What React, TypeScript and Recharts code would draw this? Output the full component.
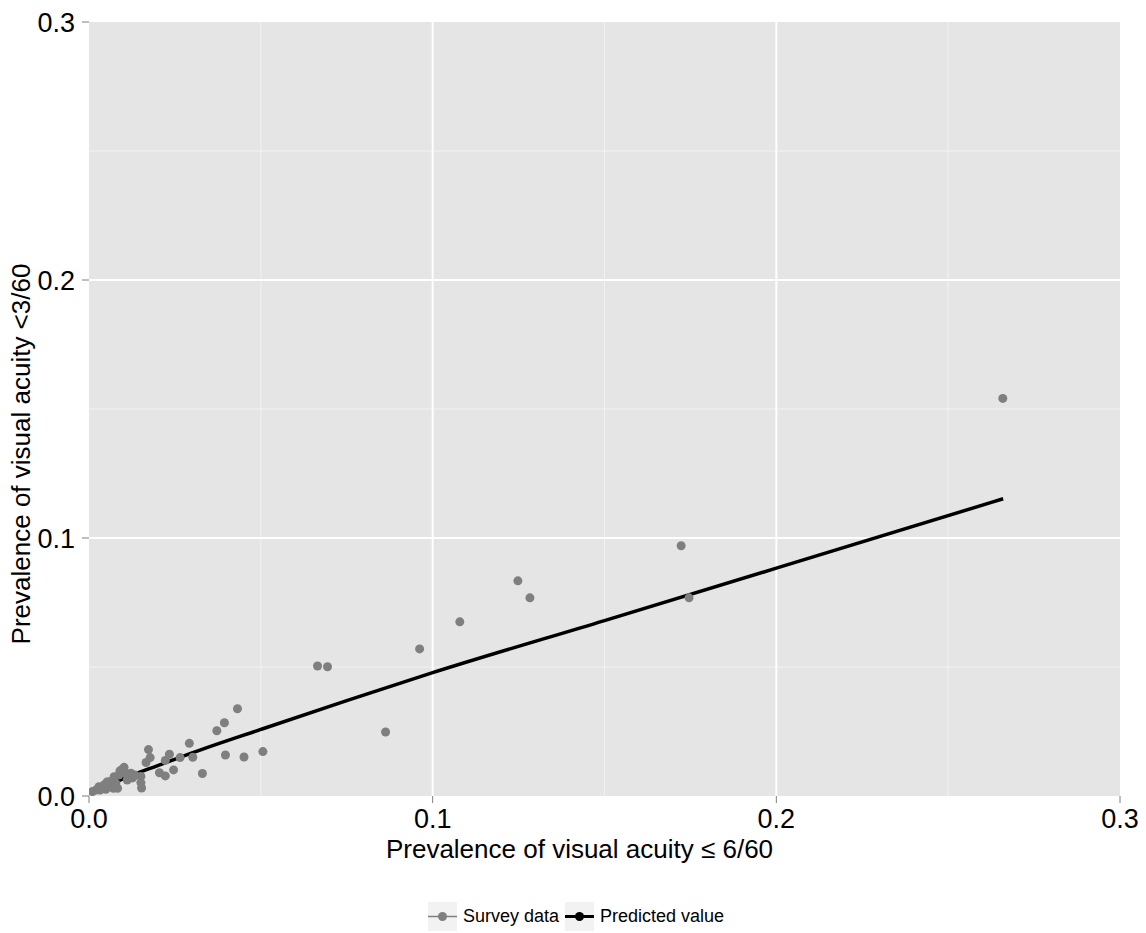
import React from "react";
import { ComposedChart, Scatter, Line, XAxis, YAxis, CartesianGrid, ReferenceLine, Legend, Label } from "recharts";

// survey points (x = prevalence <= 6/60, y = prevalence < 3/60)
const surveyX = [
  0.2659, 0.1723, 0.1746, 0.1248, 0.1283, 0.1079, 0.0962, 0.0863, 0.0665, 0.0694,
  0.0506, 0.0432, 0.0451, 0.0394, 0.0397, 0.0372, 0.0330, 0.0302, 0.0292, 0.0265,
  0.0246, 0.0234, 0.0222, 0.0222, 0.0205, 0.0173, 0.0178, 0.0166, 0.0151, 0.0151,
  0.0153, 0.0127, 0.0122, 0.0107, 0.0102, 0.0096, 0.0087, 0.0073, 0.0078, 0.0083,
  0.0058, 0.0063, 0.0044, 0.0049, 0.0029, 0.0020, 0.0010, 0.0120, 0.0071, 0.0090,
  0.0111, 0.0032, 0.0052, 0.0134,
];
const surveyY = [
  0.1541, 0.0970, 0.0768, 0.0834, 0.0768, 0.0675, 0.0570, 0.0248, 0.0504, 0.0501,
  0.0172, 0.0338, 0.0151, 0.0284, 0.0159, 0.0253, 0.0087, 0.0150, 0.0204, 0.0149,
  0.0101, 0.0162, 0.0078, 0.0138, 0.0090, 0.0180, 0.0149, 0.0130, 0.0076, 0.0052,
  0.0031, 0.0070, 0.0088, 0.0088, 0.0111, 0.0103, 0.0081, 0.0075, 0.0049, 0.0030,
  0.0055, 0.0036, 0.0043, 0.0026, 0.0036, 0.0023, 0.0017, 0.0070, 0.0030, 0.0097,
  0.0062, 0.0023, 0.0054, 0.0081,
];

// fitted curve
const predictedX = [0.0005, 0.005, 0.01, 0.02, 0.03, 0.05, 0.075, 0.1, 0.15, 0.2, 0.266];
const predictedY = [0.0008, 0.0037, 0.0067, 0.0118, 0.0167, 0.0258, 0.037, 0.0478, 0.068, 0.0883, 0.1152];

const majorTicks = [0, 0.1, 0.2, 0.3];
const gridMajor = [0.1, 0.2];
const gridMinor = [0.05, 0.15, 0.25];

const survey = surveyX.map((x, i) => ({ x, y: surveyY[i] }));
const predicted = predictedX.map((x, i) => ({ x, y: predictedY[i] }));

const FONT = "'Liberation Sans', Arial, sans-serif";

function Dot(props: any) {
  return <circle cx={props.cx} cy={props.cy} r={4.5} fill="#7F7F7F" />;
}

function LegendKey({ color, width }: { color: string; width: number }) {
  return (
    <svg width={29} height={29} style={{ display: "block" }}>
      <rect width={29} height={29} fill="#F2F2F2" />
      <line x1={0} y1={14.5} x2={29} y2={14.5} stroke={color} strokeWidth={width} />
      <circle cx={14.5} cy={14.5} r={4.5} fill={color} />
    </svg>
  );
}

function ChartLegend() {
  return (
    <div style={{ display: "flex", justifyContent: "center", alignItems: "center", paddingTop: 26, fontFamily: FONT, fontSize: 18, color: "#000", marginLeft: 32 }}>
      <LegendKey color="#7F7F7F" width={1.5} />
      <span style={{ margin: "0 6px 0 6px" }}>Survey data</span>
      <LegendKey color="#000" width={3} />
      <span style={{ marginLeft: 6 }}>Predicted value</span>
    </div>
  );
}

export default function App() {
  return (
    <div style={{ position: "absolute", left: 0, top: 0, background: "#fff" }}>
      <ComposedChart width={1146} height={933} margin={{ top: 22, right: 26, left: 0, bottom: 0 }} style={{ fontFamily: FONT }}>
        <CartesianGrid fill="#E5E5E5" horizontal={false} vertical={false} />
        {gridMinor.map((v) => (
          <ReferenceLine key={"mx" + v} x={v} stroke="#F2F2F2" strokeWidth={1} />
        ))}
        {gridMinor.map((v) => (
          <ReferenceLine key={"my" + v} y={v} stroke="#F2F2F2" strokeWidth={1} />
        ))}
        {gridMajor.map((v) => (
          <ReferenceLine key={"Mx" + v} x={v} stroke="#FFFFFF" strokeWidth={2} />
        ))}
        {gridMajor.map((v) => (
          <ReferenceLine key={"My" + v} y={v} stroke="#FFFFFF" strokeWidth={2} />
        ))}
        <XAxis
          dataKey="x"
          type="number"
          domain={[0, 0.3]}
          ticks={majorTicks}
          tickFormatter={(v: number) => v.toFixed(1)}
          allowDataOverflow
          height={80}
          axisLine={false}
          tickLine={{ stroke: "#7F7F7F" }}
          tickSize={7}
          tickMargin={6}
          tick={{ fill: "#000", fontSize: 27 }}
        >
          <Label
            content={(p: any) => (
              <text x={p.viewBox.x + p.viewBox.width / 2 - 25} y={p.viewBox.y + 62} textAnchor="middle" fontSize={26} fill="#000">
                Prevalence of visual acuity ≤ 6/60
              </text>
            )}
          />
        </XAxis>
        <YAxis
          dataKey="y"
          type="number"
          domain={[0, 0.3]}
          ticks={majorTicks}
          tickFormatter={(v: number) => v.toFixed(1)}
          allowDataOverflow
          width={89}
          axisLine={false}
          tickLine={{ stroke: "#7F7F7F" }}
          tickSize={7}
          tickMargin={7}
          tick={{ fill: "#000", fontSize: 27 }}
        >
          <Label
            content={(p: any) => {
              const cx = 30;
              const cy = p.viewBox.y + p.viewBox.height / 2 + 45;
              return (
                <text x={cx} y={cy} transform={`rotate(-90, ${cx}, ${cy})`} textAnchor="middle" fontSize={26} fill="#000">
                  Prevalence of visual acuity &lt;3/60
                </text>
              );
            }}
          />
        </YAxis>
        <Scatter name="Survey data" data={survey} dataKey="y" fill="#7F7F7F" shape={Dot} isAnimationActive={false} />
        <Line name="Predicted value" data={predicted} dataKey="y" type="monotone" stroke="#000" strokeWidth={3.5} dot={false} activeDot={false} isAnimationActive={false} />
        <Legend verticalAlign="bottom" height={57} content={() => <ChartLegend />} />
      </ComposedChart>
    </div>
  );
}
